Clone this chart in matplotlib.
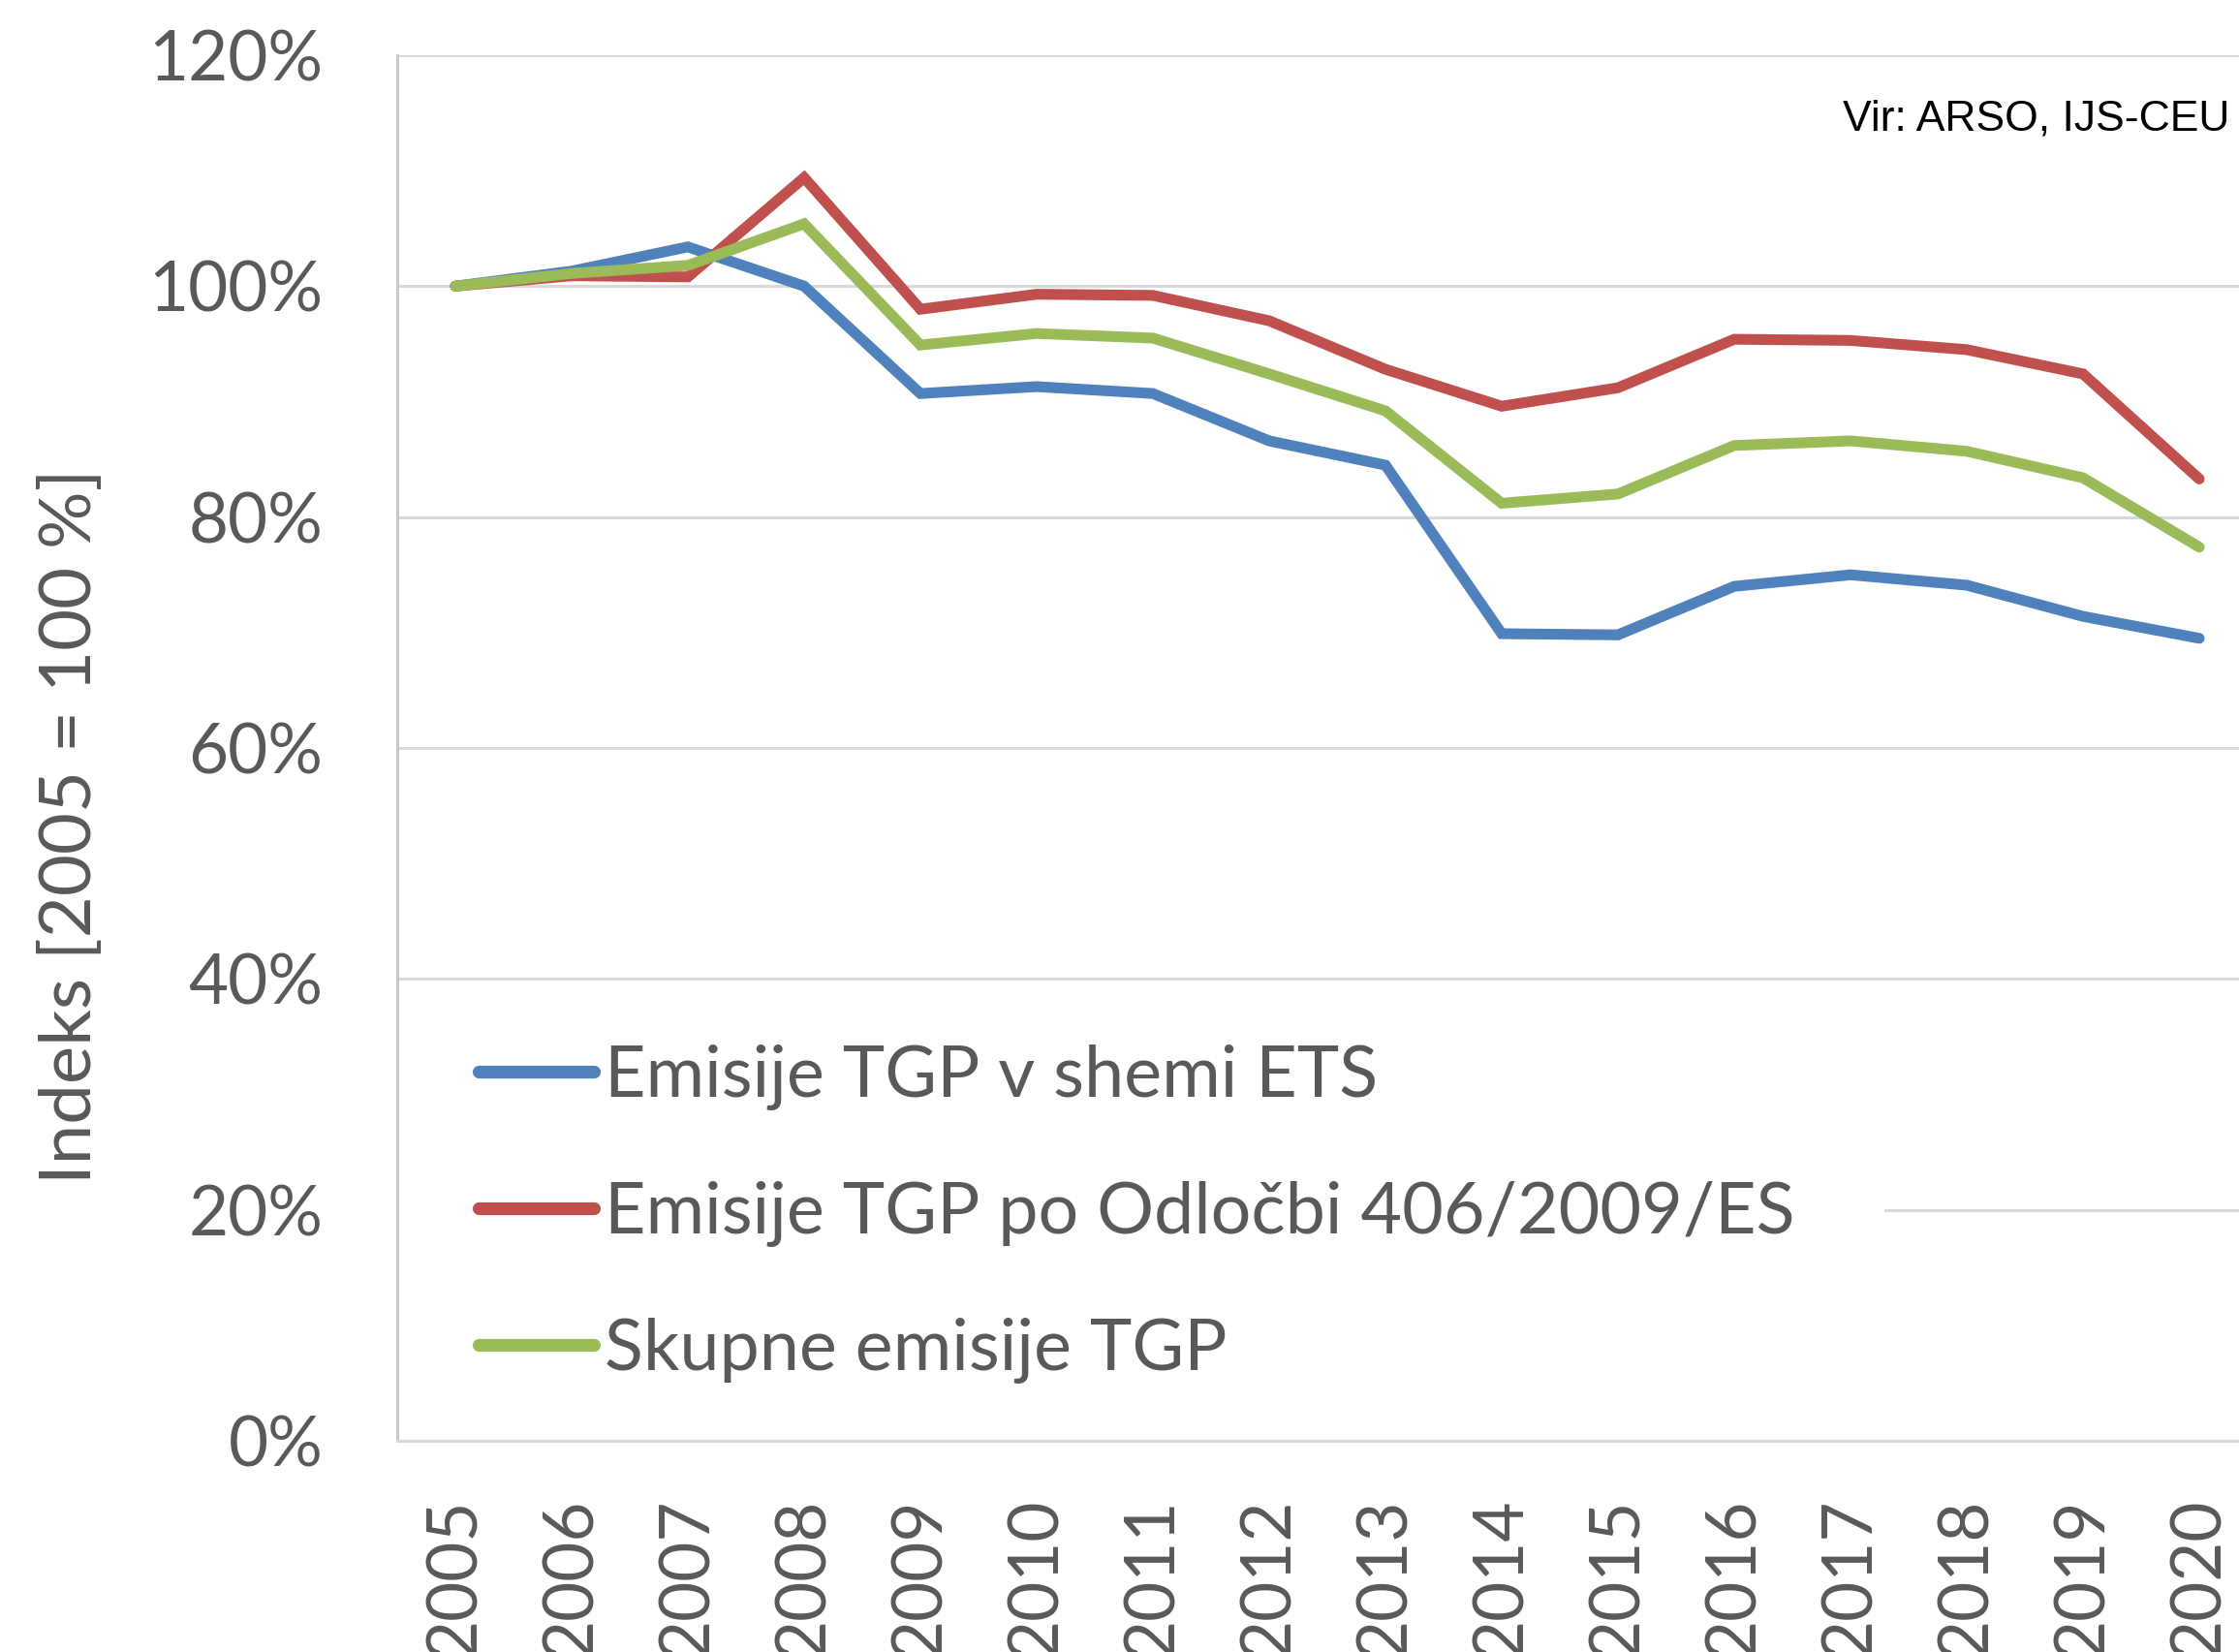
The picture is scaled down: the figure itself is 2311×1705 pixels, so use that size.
import matplotlib
matplotlib.use("Agg")
import matplotlib.pyplot as plt
import matplotlib.ticker as ticker
from matplotlib.path import Path

# ── Data (index, 2005 = 100 %) ───────────────────────────────────────────────
YEARS = [str(y) for y in range(2005, 2021)]

ETS = [100.0, 101.3, 103.4, 100.0, 90.7, 91.3, 90.7, 86.6,
       84.5, 69.9, 69.8, 74.0, 75.0, 74.1, 71.4, 69.5]
ESD = [100.0, 100.9, 100.8, 109.4, 98.0, 99.3, 99.2, 97.0,
       92.8, 89.6, 91.2, 95.4, 95.3, 94.5, 92.4, 83.3]
TOTAL = [100.0, 101.1, 101.8, 105.4, 94.9, 95.9, 95.5, 92.4,
         89.2, 81.2, 82.0, 86.2, 86.6, 85.7, 83.4, 77.4]

LABELS = [
    "Emisije TGP v shemi ETS",
    "Emisije TGP po Odločbi 406/2009/ES",
    "Skupne emisije TGP",
]
COLORS = ["#4F81BD", "#C0504D", "#9BBB59"]

TEXT_GREY = "#595959"
FONT = "Lato"

plt.rcParams["font.family"] = [FONT, "DejaVu Sans"]

fig = plt.figure(figsize=(23.11, 17.05), dpi=100)
ax = fig.add_axes([410 / 2311, 1 - 1487 / 1705, 1920 / 2311, 1430 / 1705])

x = list(range(len(YEARS)))
for series, label, color in zip([ETS, ESD, TOTAL], LABELS, COLORS):
    ax.plot(x, series, color=color, linewidth=8, label=label,
            solid_capstyle="round", solid_joinstyle="miter", zorder=3)

ax.set_xlim(-0.5, len(YEARS) - 0.5)
ax.set_ylim(0, 120)
ax.set_yticks(range(0, 121, 20))
ax.yaxis.set_major_formatter(ticker.FuncFormatter(lambda v, _: f"{v:.0f}%"))
ax.set_xticks(x)
ax.set_xticklabels(YEARS, rotation=90)

ax.grid(axis="y", color="#D9D9D9", linewidth=2.2, zorder=0)
ax.grid(axis="x", visible=False)
ax.set_axisbelow(True)
for side in ("top", "right"):
    ax.spines[side].set_visible(False)
ax.spines["left"].set_color("#C8C8C8")
ax.spines["left"].set_linewidth(2.2)
ax.spines["bottom"].set_color("#D9D9D9")
ax.spines["bottom"].set_linewidth(2.2)

ax.tick_params(axis="both", length=0, labelsize=51, colors=TEXT_GREY)
ax.tick_params(axis="y", pad=55)
ax.tick_params(axis="x", pad=42)

# ── Axis title, centred on the figure ─────────────────────────────────────────
fig.text(0.032, 0.5, "Indeks [2005 = 100 %]", rotation=90,
         ha="center", va="center", fontsize=53.5, color=TEXT_GREY)

# ── Source note ───────────────────────────────────────────────────────────────
fig.text(0.996, 0.928, "Vir: ARSO, IJS-CEU", ha="right", va="center",
         fontsize=32, color="black", family="Liberation Sans")

# ── Legend inside the plot ────────────────────────────────────────────────────
leg = ax.legend(loc="upper left", bbox_to_anchor=(0.017, 0.322),
                borderaxespad=0, fontsize=53, frameon=True, fancybox=False,
                borderpad=0.7, handlelength=1.62, handletextpad=0.15,
                labelspacing=0.99)


def wide_box(x0, y0, width, height, mutation_size):
    # white background reaching left to the axis, like the Excel legend area
    ext = 0.55 * mutation_size
    return Path([(x0 - ext, y0), (x0 + width + ext, y0),
                 (x0 + width + ext, y0 + height), (x0 - ext, y0 + height),
                 (x0 - ext, y0)], closed=True)


frame = leg.get_frame()
frame.set_boxstyle(wide_box)
frame.set_facecolor("white")
frame.set_edgecolor("none")
frame.set_alpha(1.0)
for t in leg.get_texts():
    t.set_color(TEXT_GREY)
for h in leg.get_lines():
    h.set_linewidth(9.5)
# above the gridlines, below the axis spines
leg.set_zorder(2.2)

fig.savefig("out.png", dpi=100)
plt.close(fig)
